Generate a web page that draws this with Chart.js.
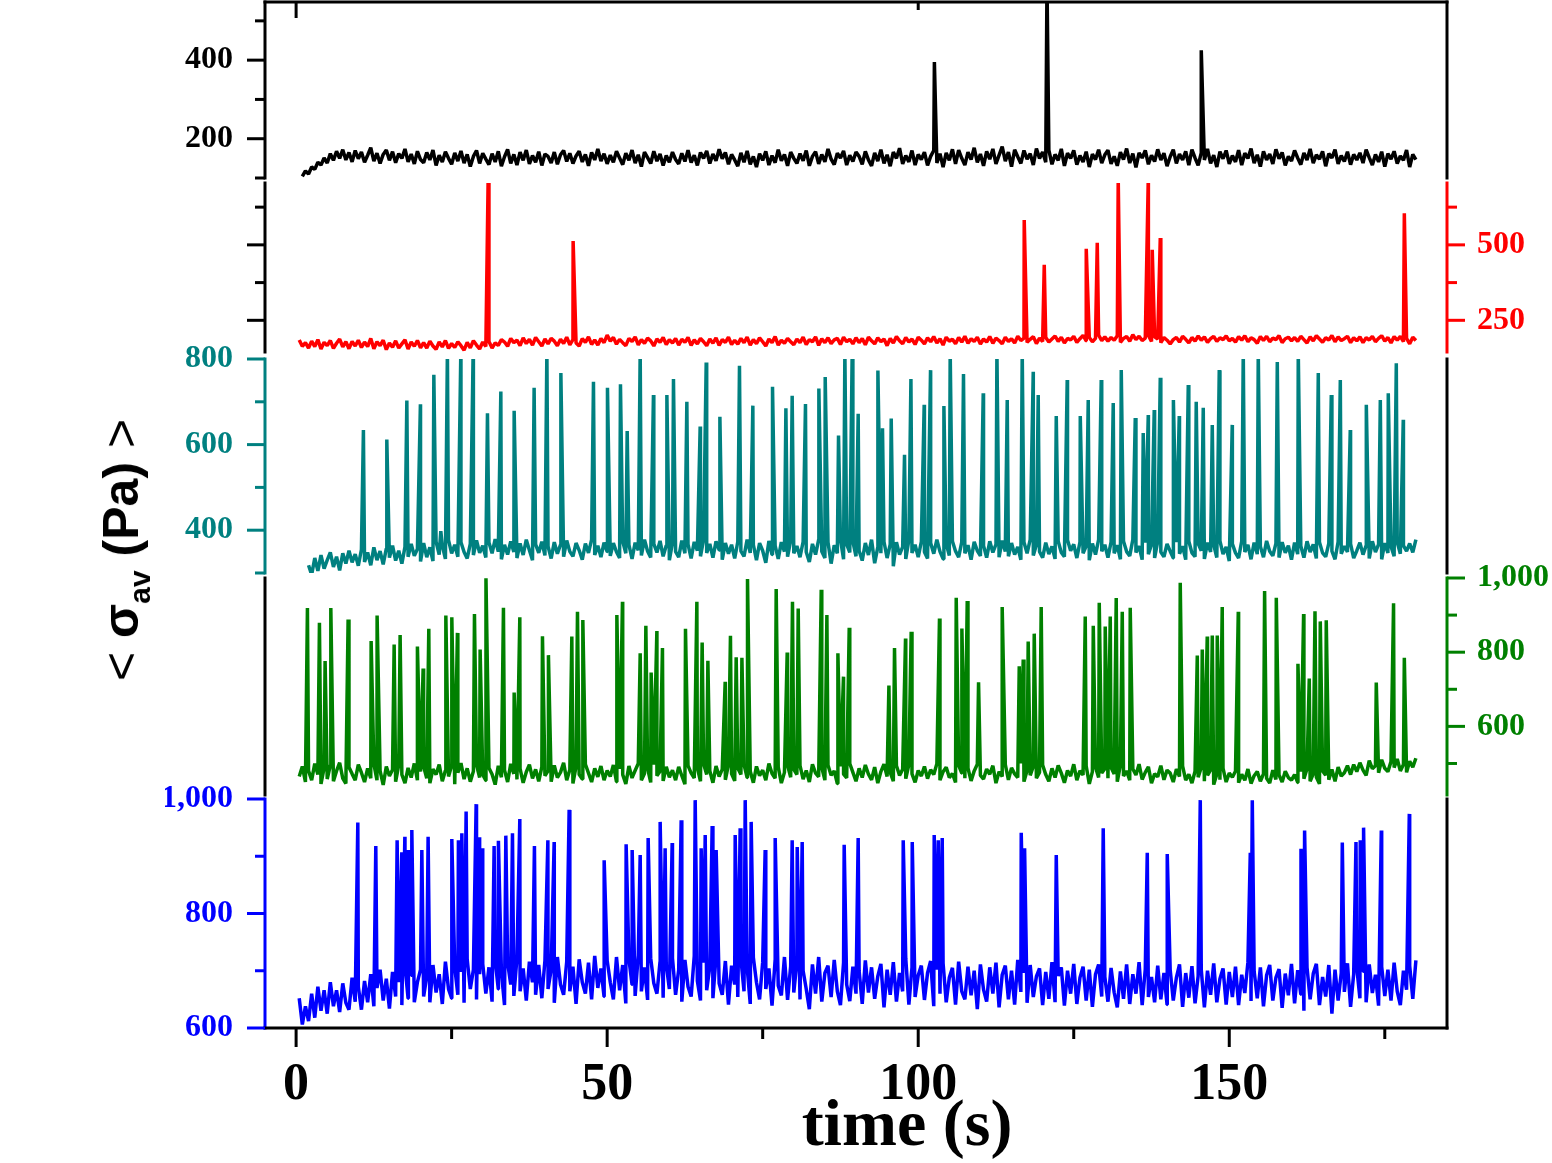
<!DOCTYPE html>
<html>
<head>
<meta charset="utf-8">
<script src="https://cdn.jsdelivr.net/npm/chart.js@4.4.1/dist/chart.umd.min.js"></script>
<style>
html, body { margin: 0; padding: 0; background: #fff; }
#wrap { position: relative; width: 1552px; height: 1163px; overflow: hidden; }
#wrap canvas { position: absolute; left: 0; top: 0; }
#ytitle {
    position: absolute; left: 121px; top: 550px;
    transform: translate(-50%, -50%) rotate(-90deg);
    white-space: nowrap; font: bold 50px "Liberation Sans", Arial, sans-serif; color: #000;
}
#ytitle .ang { font-weight: normal; }
#ytitle .sub { font-size: 0.6em; position: relative; top: 0.4em; }
#xtitle {
    position: absolute; left: 907px; top: 1123px;
    transform: translate(-50%, -50%);
    white-space: nowrap; line-height: 1; font: bold 66px "Liberation Serif", "Times New Roman", serif; color: #000;
}
</style>
</head>
<body>
<div id="wrap">
    <canvas id="cBlack" width="1552" height="1163"></canvas>
    <canvas id="cRed" width="1552" height="1163"></canvas>
    <canvas id="cTeal" width="1552" height="1163"></canvas>
    <canvas id="cGreen" width="1552" height="1163"></canvas>
    <canvas id="cBlue" width="1552" height="1163"></canvas>
    <div id="ytitle"><span class="ang">&lt;</span> σ<span class="sub">av</span> (Pa) <span class="ang">&gt;</span></div>
    <div id="xtitle">time (s)</div>
</div>
<script>
// baseline samples are every 0.5 s starting at t = 0.5 s
var tStart = 0.5, tStep = 0.5;

var xTicks = [0, 25, 50, 75, 100, 125, 150, 175];
var xLabels = [0, 50, 100, 150];
var topTickValues = [0, 100];

// ---- black ----
var blackTicks = [100, 200, 300, 400, 500];
var blackLabels = [200, 400];
var blackSpikeT = [102.6, 120.7, 145.5];
var blackSpikeV = [395, 600, 425];
var blackBase = [
    null,104,118,110,128,122,140,133,151,138,162,145,168,150,172,146,165,141,170,149,
    166,140,158,177,143,163,137,160,171,145,167,139,162,150,174,141,161,136,168,147,
    139,165,146,171,132,158,141,167,150,135,164,143,169,138,160,129,155,170,137,163,
    148,134,162,141,168,130,154,173,137,160,133,166,145,171,136,157,140,167,132,161,
    155,138,166,135,159,170,142,163,137,156,168,141,160,131,165,146,174,143,162,136,
    158,140,168,151,134,163,145,171,138,159,129,166,152,137,168,143,161,132,157,140,
    166,147,136,163,142,171,139,158,132,165,150,169,137,161,144,173,149,165,135,160,
    146,130,164,140,169,135,155,128,162,145,168,133,157,139,172,144,160,131,166,150,
    137,162,144,170,131,155,167,136,160,141,174,148,134,163,151,169,133,158,142,166,
    155,135,168,146,131,164,143,172,137,159,130,166,150,176,136,157,141,170,133,160,
    147,166,132,155,170,138,162,128,164,145,173,136,171,150,133,166,147,177,140,161,
    131,168,148,174,136,158,180,143,166,129,172,154,137,170,148,162,133,175,150,166,
    140,171,135,160,145,174,131,163,150,170,134,157,141,167,128,161,147,172,138,159,
    171,136,155,131,166,147,175,138,162,127,164,151,170,135,158,142,173,146,163,130,
    154,172,137,161,146,168,133,172,151,132,164,146,174,137,158,128,167,149,170,136,
    157,141,171,133,163,150,175,138,159,129,168,146,161,136,173,149,165,132,155,143,
    170,151,134,164,146,174,138,159,148,168,130,162,151,172,136,157,142,167,134,160,
    146,164,138,172,152,133,160,141,167,129,162,148,168,137,156,145,171,128,160,147
];

// ---- red ----
var redTicks = [250, 375, 500, 625];
var redLabels = [250, 500];
var redSpikeT = [30.87, 44.53, 117.04, 120.26, 127.01, 128.78, 132.15, 136.98, 137.62, 138.91, 178.14];
var redSpikeV = [720, 513, 582, 434, 487, 507, 720, 720, 484, 523, 605];
var redBase = [
    185,164,176,158,181,163,186,155,177,166,183,157,174,188,162,179,156,180,165,184,
    160,178,163,190,156,179,166,184,153,175,161,182,158,172,185,155,178,164,183,159,
    176,158,181,165,154,178,162,183,157,173,160,179,166,151,177,159,182,168,155,178,
    163,180,158,175,167,186,178,164,190,176,184,166,192,173,187,168,193,179,165,188,
    172,190,181,166,187,173,194,169,186,175,165,189,177,195,170,185,168,190,176,201,
    181,193,171,187,176,166,190,180,195,169,186,174,191,182,165,188,177,193,170,186,
    175,190,168,187,177,193,167,185,172,190,179,166,188,174,192,167,186,177,194,170,
    184,171,190,176,194,168,186,173,192,179,165,188,176,196,168,184,174,190,179,169,
    188,176,194,170,186,179,195,167,189,176,192,173,185,190,170,194,179,187,172,192,
    176,190,169,194,182,172,192,179,188,166,190,175,196,182,172,193,178,188,170,194,
    184,172,192,179,196,175,189,168,194,181,187,172,193,178,197,174,189,180,194,171,
    188,178,196,174,191,183,172,194,180,189,175,197,183,191,177,187,196,173,191,180,
    193,178,188,198,180,194,175,190,185,197,177,189,200,182,193,179,190,201,183,195,
    181,193,184,199,177,190,196,181,202,186,197,183,191,200,180,195,188,176,193,184,
    172,186,193,178,197,187,175,193,181,198,184,195,177,189,197,180,192,186,198,182,
    190,178,196,184,199,179,192,186,174,196,183,197,179,191,186,199,176,189,194,182,
    193,180,197,186,175,195,182,199,188,177,192,185,200,179,195,183,189,197,176,192,
    182,195,176,192,185,197,179,190,199,181,193,175,196,184,197,179,190,172,194,183
];

// ---- teal ----
var tealTicks = [300, 400, 500, 600, 700, 800];
var tealLabels = [400, 600, 800];
var tealSpikeT = [10.82, 14.58, 17.80, 19.98, 22.14, 23.26, 24.32, 26.48, 28.46, 30.76, 32.91, 35.05, 38.26, 40.31,
    42.56, 47.80, 50.05, 52.14, 53.22, 55.31, 57.44, 59.60, 60.66, 62.81, 64.95, 65.92, 68.12, 71.27, 73.42,
    76.58, 78.73, 79.74, 81.88, 84.03, 85.05, 87.19, 88.21, 89.39, 90.35, 93.52, 94.26, 95.66, 97.80, 98.83,
    100.96, 101.98, 104.13, 105.14, 107.28, 110.45, 112.65,
    114.31, 116.72, 118.49, 119.29, 122.19, 123.95, 126.05, 127.33, 129.42, 131.35, 132.64, 134.89, 136.17,
    136.98, 137.94, 138.91, 141.02, 141.96, 143.41, 144.69, 145.82, 147.27, 148.39, 150.48, 152.25, 154.66,
    157.72, 161.09, 164.31, 166.40, 167.85, 169.45, 172.03, 174.28, 175.56, 176.85, 177.97];
var tealSpikeV = [634, 612, 703, 694, 763, 398, 820, 820, 820, 673, 724, 679, 733, 820,
    767, 747, 733, 741, 632, 820, 716, 716, 753, 700, 642, 792, 665, 784, 691,
    735, 685, 714, 695, 731, 758, 621, 820, 820, 672, 773, 638, 661, 576, 753,
    693, 774, 690, 820, 765, 720, 820,
    704, 820, 770, 716, 667, 751, 667, 704, 751, 697, 774, 662, 627,
    669, 681, 756, 704, 667, 739, 700, 686, 646, 774, 646, 820, 820,
    793, 820, 767, 716, 751, 634, 693, 704, 720, 790, 658];
var tealBase = [
    null,null,null,318,296,335,305,342,310,330,348,314,338,306,346,322,352,325,344,317,
    355,326,348,318,360,330,351,320,357,336,364,329,352,322,361,338,368,340,356,327,
    370,337,360,328,373,343,364,333,377,346,366,338,372,349,334,368,342,376,347,364,
    336,371,346,379,350,332,366,343,374,349,335,369,342,378,353,330,367,347,373,341,
    362,334,372,345,366,338,376,350,339,370,353,331,369,347,378,342,364,337,371,350,
    340,370,349,335,374,346,366,333,371,353,341,378,351,336,368,348,375,339,364,330,
    371,350,337,376,346,367,334,373,352,339,378,347,368,336,374,354,331,370,345,366,
    334,373,351,339,378,347,366,330,370,352,324,375,343,364,333,372,350,338,376,346,
    363,337,373,349,326,368,343,378,350,335,372,322,365,346,379,332,367,348,373,339,
    352,329,370,342,378,323,360,346,373,335,367,316,372,343,361,333,377,347,366,337,
    373,349,334,370,345,378,350,333,368,341,374,351,337,372,346,365,331,373,352,340,
    364,336,374,348,367,337,376,350,339,370,343,361,331,372,346,378,341,366,350,336,
    371,344,362,333,374,348,338,377,352,367,335,372,346,363,330,369,343,378,351,366,
    336,372,346,365,332,374,350,340,378,348,363,331,371,344,366,335,374,349,338,368,
    351,335,372,345,363,331,374,347,338,369,352,333,371,349,366,336,375,344,361,328,
    368,347,335,374,349,366,332,371,344,362,337,375,351,340,369,336,372,347,364,331,
    371,344,363,336,374,349,367,334,372,347,338,369,351,332,373,345,363,349,368,335,
    352,371,343,364,334,374,349,367,332,370,347,362,339,372,345,364,351,369,348,378
];

// ---- green ----
var greenTicks = [500, 600, 700, 800, 900, 1000];
var greenLabels = [600, 800, 1000];
var greenSpikeT = [1.82, 3.75, 4.66, 5.58, 8.36, 12.06, 13.02, 15.76, 16.72, 19.50, 20.42, 21.33, 24.07, 25.03,
    25.93, 28.67, 29.58, 30.52, 33.33, 35.05, 35.96, 39.60, 40.56,
    44.32, 45.23, 46.09, 51.56, 52.46, 55.31, 56.22, 57.07, 57.99, 58.89, 62.59, 64.42, 65.27, 66.19,
    68.97, 69.82, 70.74, 71.66, 72.56, 77.17, 78.94, 79.79, 80.71, 84.41, 85.32, 87.09, 87.99, 88.91,
    95.29, 96.19, 97.96, 98.87, 103.42, 106.11, 107.02, 107.88, 109.70,
    113.50, 116.24, 116.88, 117.68, 118.65, 119.77, 126.85, 128.14, 129.10, 130.06, 130.87, 131.83,
    132.80, 134.08, 142.12, 144.86, 145.66, 146.46, 147.27, 148.07, 148.87, 151.45, 155.68, 157.56,
    161.04, 161.95, 162.86, 163.78, 164.63, 165.59, 173.63, 176.41, 178.14];
var greenSpikeV = [919, 879, 776, 919, 888, 830, 899, 821, 846, 815, 756, 863, 899, 894,
    852, 903, 807, 999, 920, 691, 894, 843, 792,
    842, 909, 887, 900, 936, 797, 871, 745, 857, 811, 863, 936, 826, 777,
    720, 844, 786, 785, 997, 970, 799, 936, 918, 968, 900, 797, 734, 866,
    710, 811, 837, 855, 891, 947, 864, 938, 719,
    922, 762, 780, 829, 850, 922, 896, 871, 933, 869, 896, 946,
    909, 920, 987, 791, 807, 842, 845, 845, 922, 909, 965, 947,
    769, 903, 729, 910, 883, 886, 718, 932, 785];
var greenBase = [
    465,492,450,480,455,500,470,445,488,458,495,452,480,502,460,446,490,472,455,497,
    475,450,487,460,498,455,480,442,492,466,483,451,496,470,447,488,462,500,455,478,
    492,460,447,485,470,497,452,481,465,494,444,475,501,458,487,451,479,496,462,470,
    454,488,471,443,494,463,482,450,499,472,457,486,448,477,497,460,484,452,491,467,
    480,451,495,462,476,502,455,483,446,492,470,458,498,474,450,487,464,493,455,481,
    465,496,451,485,470,445,493,461,481,500,455,473,487,449,497,467,479,453,491,463,
    482,455,491,467,444,494,474,461,488,452,499,470,480,448,493,465,484,456,497,472,
    453,487,470,497,462,479,448,492,467,482,455,500,473,460,490,447,476,495,463,484,
    470,494,458,481,450,498,474,464,489,455,495,468,480,446,492,471,461,500,476,452,
    487,462,496,471,456,490,447,478,498,465,476,452,494,468,484,459,497,472,449,481,
    466,492,459,483,470,499,455,478,490,462,473,449,495,474,460,487,453,480,498,468,
    458,485,471,494,447,478,465,497,456,488,472,462,500,451,481,468,492,460,476,496,
    470,452,487,462,495,474,448,481,466,498,455,480,469,493,445,478,490,462,474,486,
    460,489,472,451,496,466,480,455,485,469,498,457,476,491,447,472,464,494,456,482,
    474,450,485,465,493,455,471,447,479,463,489,452,468,483,443,471,456,487,450,474,
    463,479,448,471,455,485,446,467,478,452,472,460,447,482,457,469,450,479,462,455,
    470,449,478,459,486,452,472,463,445,480,468,456,484,452,490,466,475,494,470,497,
    478,502,482,468,508,486,494,475,510,487,478,505,489,512,480,497,476,506,490,514
];

// ---- blue ----
var blueTicks = [600, 700, 800, 900, 1000];
var blueLabels = [600, 800, 1000];
var blueSpikeT = [9.92, 12.81, 16.24, 16.99, 17.48, 18.05, 18.60, 20.21, 21.22, 25.03, 26.09, 26.64, 27.33,
    28.94, 29.42, 29.95, 31.83, 32.52, 33.71, 34.78, 35.96, 38.31, 40.47, 41.48, 43.89, 49.52, 53.05, 54.02,
    55.31, 56.59, 58.52, 59.32, 60.45, 61.90, 64.15, 65.11, 65.76, 66.88, 67.52, 70.58, 71.38, 72.19, 73.15,
    75.40, 77.01, 79.74, 80.55, 81.35, 88.10, 90.35, 97.59, 99.04, 102.57, 103.22, 103.86, 116.56, 117.10,
    122.19, 129.74, 136.82, 140.03, 145.34, 153.38, 153.70, 161.53, 162.11, 168.17, 170.37, 171.06, 171.59,
    174.44, 178.94];
var blueSpikeV = [959, 918, 928, 907, 934, 911, 946, 911, 934, 930, 928, 940, 978,
    991, 933, 914, 918, 927, 936, 940, 965, 918, 928, 925, 981, 893, 921, 911,
    902, 932, 960, 914, 923, 963, 998, 914, 937, 953, 911, 937, 949, 998, 960,
    911, 932, 928, 916, 925, 920, 932, 928, 925, 937, 928, 932, 941, 914,
    902, 949, 906, 904, 998, 906, 998, 913, 945, 924, 925, 928, 950,
    945, 974];
var blueBase = [
    652,606,638,612,660,618,672,630,666,625,680,638,666,628,678,644,632,688,646,672,
    632,682,645,694,638,670,702,648,686,634,698,655,680,640,708,652,692,645,680,702,
    655,690,645,710,662,694,642,716,668,652,706,658,698,644,720,668,702,650,694,712,
    660,706,646,718,668,698,640,714,676,656,722,664,704,648,716,680,658,710,652,718,
    668,702,644,724,676,658,716,664,707,642,720,680,660,714,650,726,670,704,655,718,
    680,650,724,666,710,643,720,676,656,727,664,706,649,722,678,660,716,653,711,668,
    722,658,702,646,719,672,655,726,682,648,714,666,707,652,725,678,658,717,641,709,
    676,654,721,664,706,642,723,680,650,715,668,704,639,719,674,657,724,649,708,662,
    716,650,700,668,633,711,660,724,646,696,709,654,719,664,640,714,676,647,707,660,
    700,642,718,662,706,651,690,712,636,702,658,715,646,696,664,721,641,706,654,692,
    709,649,696,717,638,702,660,713,645,688,705,641,716,664,650,707,657,700,633,711,
    667,646,706,660,714,636,693,709,650,700,641,719,663,696,644,710,654,690,704,640,
    698,651,715,645,691,706,639,700,660,712,642,688,707,648,702,637,694,711,655,689,
    646,705,662,636,699,651,711,642,694,660,715,640,703,654,689,645,709,650,696,641,
    702,648,688,711,637,696,653,708,643,691,702,636,700,658,713,645,686,704,641,698,
    654,707,640,693,661,715,647,699,652,706,638,692,710,648,688,703,635,695,657,712,
    643,701,659,630,706,650,695,712,640,689,655,710,625,702,648,696,663,713,637,694,
    705,652,699,645,711,661,693,639,707,656,702,648,714,664,640,700,667,709,651,718
];

var AXIS_W = 100, AXIS_W_R = 105, X_AXIS_H = 135;
var tickFont = { family: 'Liberation Serif', size: 32, weight: 'bold' };

// baseline samples plus the spike peaks, in time order
function buildPoints(base, spikeT, spikeV) {
    var pts = [];
    for (var i = 0; i < base.length; i++) {
        if (base[i] === null) continue;
        pts.push({ x: tStart + i * tStep, y: base[i] });
    }
    for (var j = 0; j < spikeT.length; j++) {
        pts.push({ x: spikeT[j], y: spikeV[j] });
    }
    pts.sort(function(a, b) { return a.x - b.x; });
    return pts;
}

function seg(ctx, x1, y1, x2, y2, color) {
    ctx.strokeStyle = color;
    ctx.beginPath();
    ctx.moveTo(x1, y1);
    ctx.lineTo(x2, y2);
    ctx.stroke();
}

// spines and tick marks (major ticks long, minor short)
var framePlugin = {
    id: 'frame',
    afterDraw: function(chart, args, o) {
        var ctx = chart.ctx, a = chart.chartArea, ys = chart.scales.y, xs = chart.scales.x;
        ctx.save();
        ctx.lineWidth = 3;
        ctx.lineCap = 'square';
        seg(ctx, a.left, a.top, a.left, a.bottom, o.leftColor);
        seg(ctx, a.right, a.top, a.right, a.bottom, o.rightColor);
        if (o.top) seg(ctx, a.left, a.top, a.right, a.top, '#000');
        if (o.bottom) seg(ctx, a.left, a.bottom, a.right, a.bottom, '#000');
        ctx.lineCap = 'butt';
        ys.ticks.forEach(function(t) {
            var py = ys.getPixelForValue(t.value);
            var len = o.major.indexOf(t.value) >= 0 ? 18 : 10;
            if (o.leftTicks) seg(ctx, a.left - len, py, a.left, py, o.leftColor);
            if (o.rightTicks) seg(ctx, a.right, py, a.right + len, py, o.rightColor);
        });
        if (o.topTicks) {
            o.topTicks.forEach(function(v, k) {
                var px = xs.getPixelForValue(v);
                seg(ctx, px, a.top, px, a.top + o.topTickLen[k], '#000');
            });
        }
        if (o.xTicks) {
            xs.ticks.forEach(function(t) {
                var px = xs.getPixelForValue(t.value);
                var len = xLabels.indexOf(t.value) >= 0 ? 19 : 11;
                seg(ctx, px, a.bottom, px, a.bottom + len, '#000');
            });
        }
        ctx.restore();
    }
};

function makePanel(id, p) {
    var right = p.side === 'right';
    return new Chart(document.getElementById(id), {
        type: 'line',
        data: {
            datasets: [{
                data: buildPoints(p.base, p.spikeT, p.spikeV),
                borderColor: p.color,
                borderWidth: 3.5,
                borderJoinStyle: 'bevel',
                pointRadius: 0,
                tension: 0,
                fill: false
            }]
        },
        options: {
            responsive: false,
            animation: false,
            devicePixelRatio: 1,
            layout: {
                padding: {
                    left: right ? 265 : 265 - AXIS_W,
                    right: right ? 1552 - 1447 - AXIS_W_R : 1552 - 1447,
                    top: p.top,
                    bottom: p.showX ? 0 : 1163 - p.bottom
                }
            },
            plugins: {
                legend: { display: false },
                tooltip: { enabled: false },
                frame: p.frame
            },
            scales: {
                x: {
                    type: 'linear', min: -5, max: 185,
                    display: !!p.showX,
                    afterBuildTicks: function(s) { s.ticks = xTicks.map(function(v) { return { value: v }; }); },
                    afterFit: function(s) {
                        s.height = p.showX ? X_AXIS_H : 0;
                        s.paddingLeft = 0; s.paddingRight = 0;
                    },
                    grid: { display: false, drawTicks: false },
                    border: { display: false },
                    ticks: {
                        autoSkip: false, maxRotation: 0, padding: 26, color: '#000',
                        font: { family: 'Liberation Serif', size: 52, weight: 'bold' },
                        callback: function(v) { return xLabels.indexOf(v) >= 0 ? String(v) : ''; }
                    }
                },
                y: {
                    type: 'linear', position: p.side, min: p.min, max: p.max,
                    afterBuildTicks: function(s) { s.ticks = p.ticks.map(function(v) { return { value: v }; }); },
                    afterFit: function(s) {
                        s.width = right ? AXIS_W_R : AXIS_W;
                        s.paddingTop = 0; s.paddingBottom = 0;
                    },
                    grid: { display: false, drawTicks: false },
                    border: { display: false },
                    ticks: {
                        autoSkip: false, padding: right ? 30 : 32, color: p.color, font: tickFont,
                        callback: function(v) { return p.labels.indexOf(v) >= 0 ? v.toLocaleString('en-US') : ''; }
                    }
                }
            }
        },
        plugins: [framePlugin]
    });
}

makePanel('cBlack', {
    base: blackBase, spikeT: blackSpikeT, spikeV: blackSpikeV, color: '#000000',
    side: 'left', min: 100, max: 548, ticks: blackTicks, labels: blackLabels, top: 2, bottom: 178,
    frame: { leftColor: '#000', rightColor: '#000', leftTicks: true, major: blackLabels, top: true,
             topTicks: topTickValues, topTickLen: [16, 8] }
});
makePanel('cRed', {
    base: redBase, spikeT: redSpikeT, spikeV: redSpikeV, color: '#ff0000',
    side: 'right', min: 145, max: 705, ticks: redTicks, labels: redLabels, top: 183, bottom: 352,
    frame: { leftColor: '#000', rightColor: '#ff0000', leftTicks: true, rightTicks: true, major: redLabels }
});
makePanel('cTeal', {
    base: tealBase, spikeT: tealSpikeT, spikeV: tealSpikeV, color: '#008080',
    side: 'left', min: 300, max: 800, ticks: tealTicks, labels: tealLabels, top: 359, bottom: 573,
    frame: { leftColor: '#008080', rightColor: '#000', leftTicks: true, major: tealLabels }
});
makePanel('cGreen', {
    base: greenBase, spikeT: greenSpikeT, spikeV: greenSpikeV, color: '#008000',
    side: 'right', min: 415, max: 1000, ticks: greenTicks, labels: greenLabels, top: 578, bottom: 795,
    frame: { leftColor: '#000', rightColor: '#008000', rightTicks: true, major: greenLabels }
});
makePanel('cBlue', {
    base: blueBase, spikeT: blueSpikeT, spikeV: blueSpikeV, color: '#0000ff',
    side: 'left', min: 600, max: 1000, ticks: blueTicks, labels: blueLabels, top: 799, bottom: 1028, showX: true,
    frame: { leftColor: '#0000ff', rightColor: '#000', leftTicks: true, major: blueLabels, bottom: true, xTicks: true }
});
</script>
</body>
</html>
